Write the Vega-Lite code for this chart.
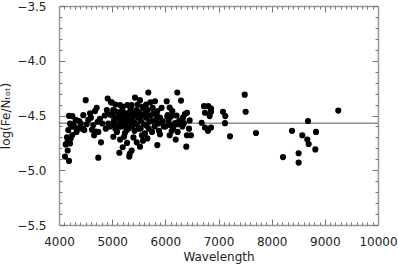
{
  "$schema": "https://vega.github.io/schema/vega-lite/v6.json",
  "width": 319,
  "height": 219,
  "autosize": "none",
  "padding": {"left": 59, "top": 6, "right": 20, "bottom": 41},
  "background": "white",
  "config": {
    "view": {"stroke": null},
    "axis": {"grid": false, "labelFont": "DejaVu Sans", "titleFont": "DejaVu Sans", "labelFontSize": 12, "titleFontSize": 12, "titleFontWeight": "normal", "labelColor": "#222", "titleColor": "#222", "domainColor": "#999", "domainWidth": 1.5, "tickColor": "#777"}
  },
  "datasets": {
    "pts": [
      {"w":4113,"v":-4.875},{"w":4188,"v":-4.915},{"w":4163,"v":-4.82},{"w":4126,"v":-4.764},{"w":4163,"v":-4.74},{"w":4207,"v":-4.755},{"w":4219,"v":-4.709},{"w":4250,"v":-4.678},{"w":4175,"v":-4.633},{"w":4288,"v":-4.603},{"w":4207,"v":-4.573},{"w":4313,"v":-4.54},{"w":4188,"v":-4.503},{"w":4250,"v":-4.505},{"w":4363,"v":-4.618},{"w":4408,"v":-4.573},{"w":4457,"v":-4.497},{"w":4476,"v":-4.633},{"w":4502,"v":-4.36},{"w":4551,"v":-4.54},{"w":4583,"v":-4.48},{"w":4645,"v":-4.587},{"w":4677,"v":-4.46},{"w":4690,"v":-4.648},{"w":4709,"v":-4.43},{"w":4728,"v":-4.557},{"w":4739,"v":-4.885},{"w":4790,"v":-4.745},{"w":4815,"v":-4.573},{"w":4740,"v":-4.65},{"w":4916,"v":-4.345},{"w":4928,"v":-4.573},{"w":4959,"v":-4.49},{"w":4978,"v":-4.38},{"w":4230,"v":-4.6},{"w":4330,"v":-4.65},{"w":4270,"v":-4.58},{"w":4440,"v":-4.62},{"w":4600,"v":-4.52},{"w":4620,"v":-4.63},{"w":4860,"v":-4.5},{"w":4880,"v":-4.62},{"w":4900,"v":-4.45},{"w":4150,"v":-4.7},{"w":4380,"v":-4.55},{"w":4520,"v":-4.58},{"w":4660,"v":-4.68},{"w":4770,"v":-4.53},
      {"w":4991,"v":-4.38},{"w":5010,"v":-4.587},{"w":5022,"v":-4.694},{"w":5147,"v":-4.405},{"w":5147,"v":-4.603},{"w":5198,"v":-4.79},{"w":5135,"v":-4.84},{"w":5223,"v":-4.694},{"w":5285,"v":-4.405},{"w":5304,"v":-4.618},{"w":5322,"v":-4.875},{"w":5330,"v":-4.85},{"w":5367,"v":-4.405},{"w":5367,"v":-4.82},{"w":5398,"v":-4.587},{"w":5429,"v":-4.336},{"w":5461,"v":-4.745},{"w":5523,"v":-4.36},{"w":5523,"v":-4.785},{"w":5536,"v":-4.618},{"w":5586,"v":-4.43},{"w":5617,"v":-4.664},{"w":5649,"v":-4.594},{"w":5661,"v":-4.709},{"w":5680,"v":-4.29},{"w":5699,"v":-4.557},{"w":5761,"v":-4.43},{"w":5806,"v":-4.37},{"w":5837,"v":-4.497},{"w":5849,"v":-4.77},{"w":5868,"v":-4.573},{"w":5899,"v":-4.52},{"w":5899,"v":-4.672},{"w":5930,"v":-4.43},
      {"w":5000,"v":-4.5},{"w":5030,"v":-4.55},{"w":5050,"v":-4.46},{"w":5060,"v":-4.62},{"w":5080,"v":-4.52},{"w":5100,"v":-4.58},{"w":5110,"v":-4.47},{"w":5130,"v":-4.53},{"w":5160,"v":-4.5},{"w":5180,"v":-4.56},{"w":5190,"v":-4.45},{"w":5210,"v":-4.6},{"w":5230,"v":-4.52},{"w":5250,"v":-4.48},{"w":5260,"v":-4.57},{"w":5280,"v":-4.63},{"w":5300,"v":-4.5},{"w":5310,"v":-4.55},{"w":5340,"v":-4.46},{"w":5350,"v":-4.6},{"w":5370,"v":-4.53},{"w":5390,"v":-4.48},{"w":5410,"v":-4.56},{"w":5420,"v":-4.64},{"w":5440,"v":-4.5},{"w":5460,"v":-4.45},{"w":5470,"v":-4.58},{"w":5490,"v":-4.52},{"w":5500,"v":-4.62},{"w":5510,"v":-4.47},{"w":5540,"v":-4.55},{"w":5560,"v":-4.5},{"w":5570,"v":-4.42},{"w":5600,"v":-4.58},{"w":5620,"v":-4.48},{"w":5640,"v":-4.52},{"w":5670,"v":-4.45},{"w":5690,"v":-4.62},{"w":5720,"v":-4.5},{"w":5740,"v":-4.55},{"w":5780,"v":-4.48},{"w":5800,"v":-4.6},{"w":5820,"v":-4.54},{"w":5850,"v":-4.46},{"w":5880,"v":-4.64},{"w":5950,"v":-4.55},{"w":5970,"v":-4.6},{"w":5060,"v":-4.4},{"w":5240,"v":-4.66},{"w":5400,"v":-4.7},{"w":5560,"v":-4.68},{"w":5090,"v":-4.65},{"w":4960,"v":-4.6},{"w":5020,"v":-4.45},{"w":5200,"v":-4.42},{"w":5350,"v":-4.44},{"w":5480,"v":-4.4},{"w":5720,"v":-4.38},{"w":5640,"v":-4.4},{"w":5750,"v":-4.65},{"w":5150,"v":-4.72},{"w":5280,"v":-4.75},{"w":5580,"v":-4.73},
      {"w":6026,"v":-4.37},{"w":6044,"v":-4.497},{"w":6082,"v":-4.427},{"w":6131,"v":-4.46},{"w":6106,"v":-4.51},{"w":6037,"v":-4.51},{"w":6088,"v":-4.587},{"w":6150,"v":-4.61},{"w":6082,"v":-4.68},{"w":6182,"v":-4.57},{"w":6232,"v":-4.58},{"w":6232,"v":-4.65},{"w":6195,"v":-4.72},{"w":6225,"v":-4.29},{"w":6295,"v":-4.364},{"w":6332,"v":-4.52},{"w":6295,"v":-4.545},{"w":6369,"v":-4.487},{"w":6407,"v":-4.475},{"w":6457,"v":-4.545},{"w":6445,"v":-4.62},{"w":6407,"v":-4.68},{"w":6482,"v":-4.68},{"w":6394,"v":-4.785},{"w":6000,"v":-4.6},{"w":6060,"v":-4.55},{"w":6120,"v":-4.64},{"w":6260,"v":-4.55},{"w":6210,"v":-4.5},{"w":6350,"v":-4.57},{"w":6320,"v":-4.6},
      {"w":6683,"v":-4.566},{"w":6727,"v":-4.415},{"w":6808,"v":-4.415},{"w":6859,"v":-4.436},{"w":6746,"v":-4.475},{"w":6859,"v":-4.466},{"w":6834,"v":-4.505},{"w":6746,"v":-4.61},{"w":6859,"v":-4.61},{"w":6802,"v":-4.64},
      {"w":7084,"v":-4.466},{"w":7128,"v":-4.505},{"w":7122,"v":-4.57},{"w":7216,"v":-4.69},{"w":7493,"v":-4.31},{"w":7511,"v":-4.466},{"w":7705,"v":-4.66},{"w":8213,"v":-4.88},{"w":8382,"v":-4.64},{"w":8507,"v":-4.845},{"w":8507,"v":-4.93},{"w":8576,"v":-4.68},{"w":8670,"v":-4.72},{"w":8696,"v":-4.76},{"w":8821,"v":-4.81},{"w":8834,"v":-4.65},{"w":8683,"v":-4.55},{"w":9253,"v":-4.455}
    ],
    "mean": [{"v": -4.57}]
  },
  "layer": [
    {
      "data": {"name": "mean"},
      "mark": {"type": "rule", "color": "#555", "strokeWidth": 1},
      "encoding": {"y": {"field": "v", "type": "quantitative", "scale": {"domain": [-5.5, -3.5], "nice": false, "zero": false}, "axis": null}}
    },
    {
      "data": {"name": "pts"},
      "mark": {"type": "circle", "color": "black", "opacity": 1, "size": 38},
      "encoding": {
        "x": {"field": "w", "type": "quantitative", "scale": {"domain": [4000, 10000], "nice": false, "zero": false}, "axis": {"orient": "bottom", "title": "Wavelength", "values": [4000,5000,6000,7000,8000,9000,10000], "format": "d", "tickSize": -6, "labelPadding": 17, "titlePadding": 4, "labelFlush": false}},
        "y": {"field": "v", "type": "quantitative", "scale": {"domain": [-5.5, -3.5], "nice": false, "zero": false}, "axis": {"orient": "left", "title": "log(Fe/Nₜₒₜ)", "values": [-5.5,-5,-4.5,-4,-3.5], "format": ".1f", "tickSize": -6, "labelPadding": 19, "titlePadding": 4, "labelFlush": false}}
      }
    },
    {
      "data": {"name": "pts"},
      "mark": {"type": "point", "opacity": 0},
      "encoding": {
        "x": {"field": "w", "type": "quantitative", "axis": {"orient": "bottom", "title": null, "labels": false, "domain": false, "tickSize": -3, "values": [4100,4200,4300,4400,4500,4600,4700,4800,4900,5100,5200,5300,5400,5500,5600,5700,5800,5900,6100,6200,6300,6400,6500,6600,6700,6800,6900,7100,7200,7300,7400,7500,7600,7700,7800,7900,8100,8200,8300,8400,8500,8600,8700,8800,8900,9100,9200,9300,9400,9500,9600,9700,9800,9900]}},
        "y": {"field": "v", "type": "quantitative", "axis": {"orient": "left", "title": null, "labels": false, "domain": false, "tickSize": -3, "values": [-5.4,-5.3,-5.2,-5.1,-4.9,-4.8,-4.7,-4.6,-4.4,-4.3,-4.2,-4.1,-3.9,-3.8,-3.7,-3.6]}}
      }
    },
    {
      "data": {"name": "pts"},
      "mark": {"type": "point", "opacity": 0},
      "encoding": {
        "x": {"field": "w", "type": "quantitative", "axis": {"orient": "top", "title": null, "labels": false, "tickSize": -6, "values": [4000,5000,6000,7000,8000,9000,10000]}},
        "y": {"field": "v", "type": "quantitative", "axis": {"orient": "right", "title": null, "labels": false, "tickSize": -6, "values": [-5.5,-5,-4.5,-4,-3.5]}}
      }
    },
    {
      "data": {"name": "pts"},
      "mark": {"type": "point", "opacity": 0},
      "encoding": {
        "x": {"field": "w", "type": "quantitative", "axis": {"orient": "top", "title": null, "labels": false, "domain": false, "tickSize": -3, "values": [4100,4200,4300,4400,4500,4600,4700,4800,4900,5100,5200,5300,5400,5500,5600,5700,5800,5900,6100,6200,6300,6400,6500,6600,6700,6800,6900,7100,7200,7300,7400,7500,7600,7700,7800,7900,8100,8200,8300,8400,8500,8600,8700,8800,8900,9100,9200,9300,9400,9500,9600,9700,9800,9900]}},
        "y": {"field": "v", "type": "quantitative", "axis": {"orient": "right", "title": null, "labels": false, "domain": false, "tickSize": -3, "values": [-5.4,-5.3,-5.2,-5.1,-4.9,-4.8,-4.7,-4.6,-4.4,-4.3,-4.2,-4.1,-3.9,-3.8,-3.7,-3.6]}}
      }
    }
  ],
  "resolve": {"axis": {"x": "independent", "y": "independent"}}
}
